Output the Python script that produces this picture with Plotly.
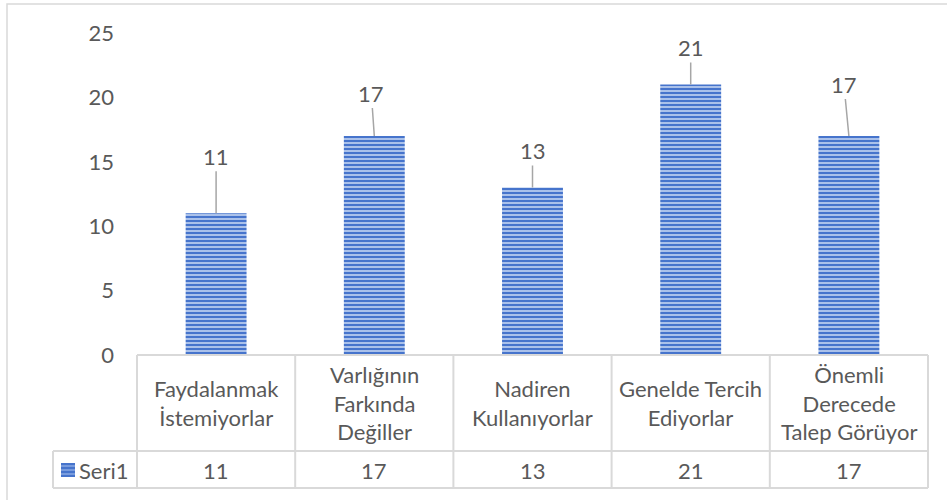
import plotly.graph_objects as go

# ---- data ----
categories = ["Faydalanmak<br>İstemiyorlar", "Varlığının<br>Farkında<br>Değiller",
              "Nadiren<br>Kullanıyorlar", "Genelde Tercih<br>Ediyorlar",
              "Önemli<br>Derecede<br>Talep Görüyor"]
values = [11, 17, 13, 21, 17]
series_name = "Seri1"
y_ticks = [0, 5, 10, 15, 20, 25]

# label offsets (pixels) for leader-line labels
label_dx = [0, -3, 0, 0, -5]
label_dy = [-57, -43, -37, -37, -52]

# ---- layout geometry (pixels) ----
FW, FH = 947, 500
L, R, T, B = 137, 928, 33, 355
W, H = R - L, B - T
ROW1_BOT, ROW2_BOT, TBL_LEFT = 451, 488, 53
GRID = "#d9d9d9"
TXT = "#595959"
FONT = "Lato"
FS = 22

def px(x):
    return (x - L) / W

def py(y):
    return (B - y) / H

n = len(categories)
xs = list(range(n))

fig = go.Figure()
fig.add_trace(go.Bar(
    x=xs, y=values, name=series_name, width=0.385,
    marker=dict(color="#4a78cf", line=dict(width=0),
                pattern=dict(shape="-", bgcolor="#4674cc", fgcolor="#d6e2f8",
                             size=4, solidity=0.35, fillmode="replace")),
    showlegend=False, hoverinfo="skip",
))

shapes = []
line = dict(color=GRID, width=2)
# table top (axis line)
shapes.append(dict(type="line", xref="paper", yref="paper", x0=px(L), x1=px(R), y0=py(B), y1=py(B), line=line))
# horizontal rows
for yy in (ROW1_BOT, ROW2_BOT):
    shapes.append(dict(type="line", xref="paper", yref="paper", x0=px(TBL_LEFT), x1=px(R), y0=py(yy), y1=py(yy), line=line))
# vertical column separators
for i in range(n + 1):
    xx = L + i * W / n
    shapes.append(dict(type="line", xref="paper", yref="paper", x0=px(xx), x1=px(xx), y0=py(B), y1=py(ROW2_BOT), line=line))
# series label cell left edge
shapes.append(dict(type="line", xref="paper", yref="paper", x0=px(TBL_LEFT), x1=px(TBL_LEFT), y0=py(ROW1_BOT), y1=py(ROW2_BOT), line=line))
# outer chart border
shapes.append(dict(type="rect", xref="paper", yref="paper", x0=px(7), x1=px(990), y0=py(4), y1=py(540),
                   line=dict(color=GRID, width=1.5), fillcolor="rgba(0,0,0,0)", layer="below"))
# legend key in table
shapes.append(dict(type="rect", xref="paper", yref="paper", x0=px(61), x1=px(75), y0=py(463), y1=py(477),
                   line=dict(width=0), fillcolor="#4674cc"))
for k in range(3):
    yy = 466 + k * 4
    shapes.append(dict(type="line", xref="paper", yref="paper", x0=px(61), x1=px(75), y0=py(yy), y1=py(yy),
                       line=dict(color="#aac2ee", width=1)))

annotations = []
for i, (c, v) in enumerate(zip(categories, values)):
    # data label with leader line
    annotations.append(dict(x=i, y=v, xref="x", yref="y", text=str(v), showarrow=True,
                            arrowhead=0, arrowwidth=1.5, arrowcolor="#a6a6a6",
                            ax=label_dx[i], ay=label_dy[i], standoff=0,
                            font=dict(family=FONT, size=FS, color=TXT)))
    # category cell
    annotations.append(dict(x=i, y=py(403), xref="x", yref="paper", text=c, showarrow=False,
                            yanchor="middle", xanchor="center",
                            font=dict(family=FONT, size=FS, color=TXT)))
    # value cell
    annotations.append(dict(x=i, y=py(470), xref="x", yref="paper", text=str(v), showarrow=False,
                            yanchor="middle", xanchor="center",
                            font=dict(family=FONT, size=FS, color=TXT)))
annotations.append(dict(x=px(104), y=py(470), xref="paper", yref="paper", text=series_name, showarrow=False,
                        yanchor="middle", xanchor="center",
                        font=dict(family=FONT, size=FS, color=TXT)))

fig.update_layout(
    width=FW, height=FH,
    margin=dict(l=L, r=FW - R, t=T, b=FH - B, autoexpand=False),
    paper_bgcolor="white", plot_bgcolor="white",
    font=dict(family=FONT, size=FS, color=TXT),
    xaxis=dict(range=[-0.5, n - 0.5], showticklabels=False, showgrid=False, zeroline=False,
               showline=False, ticks="", fixedrange=True),
    yaxis=dict(range=[0, 25], tickvals=y_ticks, showgrid=False, zeroline=False, showline=False,
               ticks="", ticklabelstandoff=22, tickfont=dict(family=FONT, size=FS, color=TXT),
               fixedrange=True),
    shapes=shapes, annotations=annotations, showlegend=False,
)

fig.write_html("out.html", config={"displayModeBar": False},
               post_script="document.body.style.margin='0';document.body.style.padding='0';")
